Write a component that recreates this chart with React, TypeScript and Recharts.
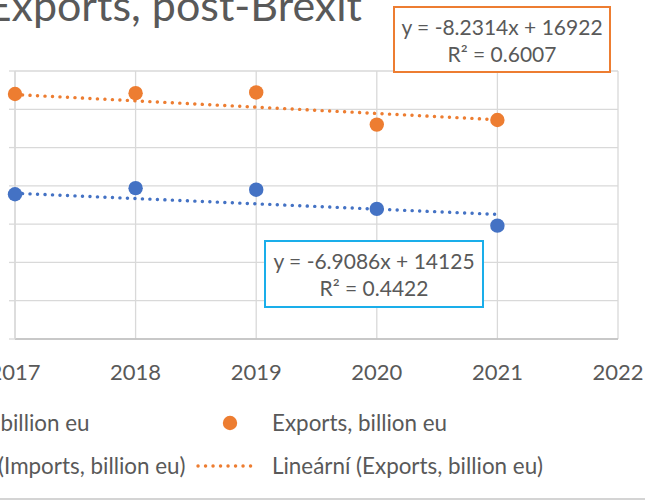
import React from 'react';
import { ComposedChart, Scatter, Line, XAxis, YAxis, CartesianGrid, Legend } from 'recharts';

const years = [2017, 2018, 2019, 2020, 2021];
const importsValues = [189, 197, 195, 170, 148];
const exportsValues = [320, 321, 322, 280, 286];
const xTicks = [2017, 2018, 2019, 2020, 2021, 2022];
const yTicks = [0, 50, 100, 150, 200, 250, 300, 350];

const importsTrend = { slope: -6.9086, intercept: 14125, r2: '0.4422' };
const exportsTrend = { slope: -8.2314, intercept: 16922, r2: '0.6007' };

const legendOrder = [
  'Imports, billion eu',
  'Exports, billion eu',
  'Lineární (Imports, billion eu)',
  'Lineární (Exports, billion eu)',
];

const BLUE = '#4472C4';
const ORANGE = '#ED7D31';
const CYAN = '#1AAEEA';
const TEXT = '#595959';
const GRID = '#d9d9d9';
const FONT = 'Lato, "Open Sans", sans-serif';

// chart is shifted left so the picture shows the same crop as the reference
const OX = 100;
const COL = 358;
const LEGEND_LEFT = -162;

const importsData = years.map((year, i) => ({ year, value: importsValues[i] }));
const exportsData = years.map((year, i) => ({ year, value: exportsValues[i] }));
const trendPoints = (t: { slope: number; intercept: number }) =>
  [years[0], years[years.length - 1]].map((year) => ({ year, value: t.slope * year + t.intercept }));

const dotShape = (color: string) => (props: any) => <circle cx={props.cx} cy={props.cy} r={7.2} fill={color} />;

function renderLegend(props: any) {
  const payload = [...(props.payload || [])].sort(
    (a: any, b: any) => legendOrder.indexOf(a.value) - legendOrder.indexOf(b.value)
  );
  return (
    <div style={{ display: 'grid', gridTemplateColumns: `${COL}px ${COL}px`, fontFamily: FONT, fontSize: 22.4, color: TEXT }}>
      {payload.map((entry: any) => (
        <div key={entry.value} style={{ display: 'flex', alignItems: 'center', height: 43, whiteSpace: 'nowrap' }}>
          <svg width={63} height={16} style={{ marginRight: 13, flex: 'none' }}>
            {entry.type === 'circle' ? (
              <circle cx={34} cy={8} r={7.2} fill={entry.color} />
            ) : (
              <line x1={2} y1={8} x2={62} y2={8} stroke={entry.color} strokeWidth={3.4} strokeDasharray="0.1 7.4" strokeLinecap="round" />
            )}
          </svg>
          <span>{entry.value}</span>
        </div>
      ))}
    </div>
  );
}

const boxStyle = (color: string, left: number, top: number, width: number, height: number): React.CSSProperties => ({
  position: 'absolute',
  left,
  top,
  width,
  height,
  boxSizing: 'border-box',
  border: `2px solid ${color}`,
  background: '#fff',
  textAlign: 'center',
  fontFamily: FONT,
  fontSize: 21,
  lineHeight: '27px',
  color: TEXT,
  paddingTop: 5,
  whiteSpace: 'nowrap',
});

export default function App() {
  return (
    <div style={{ position: 'absolute', left: 0, top: 0, width: 645, height: 502, overflow: 'hidden', background: '#fff' }}>
      <div
        style={{
          position: 'absolute',
          right: 645 - 362,
          top: -17,
          fontFamily: FONT,
          fontWeight: 400,
          fontSize: 43,
          lineHeight: 1,
          color: TEXT,
          whiteSpace: 'nowrap',
        }}
      >
        Imports and Exports, post-Brexit
      </div>
      <div style={{ position: 'absolute', left: -OX, top: 0 }}>
        <ComposedChart width={745} height={502} margin={{ top: 71, right: 27, bottom: 123, left: 55 }}>
          <CartesianGrid stroke={GRID} strokeWidth={1.3} />
          <XAxis
            type="number"
            dataKey="year"
            domain={[2017, 2022]}
            ticks={xTicks}
            tickLine={false}
            tickSize={0}
            tickMargin={25}
            height={40}
            axisLine={{ stroke: '#bfbfbf', strokeWidth: 1.6 }}
            tick={{ fill: TEXT, fontSize: 22, fontFamily: FONT }}
          />
          <YAxis
            type="number"
            dataKey="value"
            domain={[0, 350]}
            ticks={yTicks}
            width={60}
            tickSize={6}
            tickMargin={25}
            tickLine={{ stroke: GRID, strokeWidth: 1.3 }}
            axisLine={{ stroke: GRID, strokeWidth: 1.3 }}
            tick={{ fill: TEXT, fontSize: 22, fontFamily: FONT }}
          />
          <Line
            name="Lineární (Imports, billion eu)"
            data={trendPoints(importsTrend)}
            dataKey="value"
            stroke={BLUE}
            strokeWidth={3.4}
            strokeDasharray="0.1 7.4"
            strokeLinecap="round"
            dot={false}
            activeDot={false}
            legendType="line"
            isAnimationActive={false}
          />
          <Line
            name="Lineární (Exports, billion eu)"
            data={trendPoints(exportsTrend)}
            dataKey="value"
            stroke={ORANGE}
            strokeWidth={3.4}
            strokeDasharray="0.1 7.4"
            strokeLinecap="round"
            dot={false}
            activeDot={false}
            legendType="line"
            isAnimationActive={false}
          />
          <Scatter name="Imports, billion eu" data={importsData} dataKey="value" fill={BLUE} shape={dotShape(BLUE)} legendType="circle" isAnimationActive={false} />
          <Scatter name="Exports, billion eu" data={exportsData} dataKey="value" fill={ORANGE} shape={dotShape(ORANGE)} legendType="circle" isAnimationActive={false} />
          <Legend
            layout="horizontal"
            align="center"
            verticalAlign="middle"
            content={renderLegend}
            wrapperStyle={{ left: LEGEND_LEFT + OX, top: 401, width: COL * 2 }}
          />
        </ComposedChart>
      </div>
      <div style={boxStyle(ORANGE, 393, 6, 218, 67)}>
        <div>{`y = ${exportsTrend.slope}x + ${exportsTrend.intercept}`}</div>
        <div>{`R² = ${exportsTrend.r2}`}</div>
      </div>
      <div style={boxStyle(CYAN, 264, 240, 220, 68)}>
        <div>{`y = ${importsTrend.slope}x + ${importsTrend.intercept}`}</div>
        <div>{`R² = ${importsTrend.r2}`}</div>
      </div>
      <div style={{ position: 'absolute', left: 0, top: 498, width: 645, height: 2, background: '#d4d4d4' }} />
    </div>
  );
}
